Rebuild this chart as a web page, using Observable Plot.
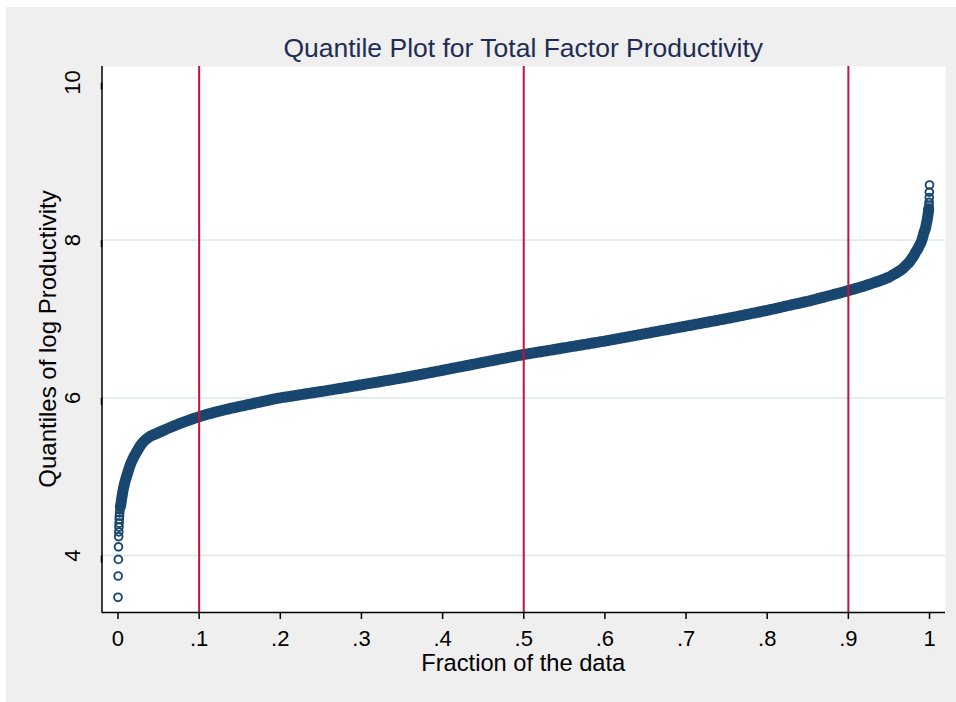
<!DOCTYPE html>
<html><head><meta charset="utf-8">
<script src="https://cdn.jsdelivr.net/npm/d3@7"></script>
<script src="https://cdn.jsdelivr.net/npm/@observablehq/plot@0.6"></script>
<style>
html,body{margin:0;padding:0;background:#fff;}
#bg{position:absolute;left:6px;top:7px;width:950px;height:695px;background:#efefef;}
#chart{position:absolute;left:0;top:0;}
</style></head><body><div id="bg"></div><div id="chart"></div>
<script>
// ---- data ----
const titleText = "Quantile Plot for Total Factor Productivity";
const xLabel = "Fraction of the data";
const yLabel = "Quantiles of log Productivity";
const xTicks = [0, 0.1, 0.2, 0.3, 0.4, 0.5, 0.6, 0.7, 0.8, 0.9, 1];
const xTickLabels = ["0", ".1", ".2", ".3", ".4", ".5", ".6", ".7", ".8", ".9", "1"];
const yTicks = [4, 6, 8, 10];
const yTickLabels = ["4", "6", "8", "10"];
const yGrid = [4, 6, 8];
const refLines = [0.1, 0.5, 0.9];

// lower tail: [fraction, quantile]
const lowTail = [
  [0.0000,3.47],[0.0002,3.74],[0.0004,3.95],[0.0006,4.11],[0.0008,4.24],[0.0010,4.30],
  [0.0012,4.36],[0.0014,4.41],[0.0016,4.46],[0.0018,4.50],[0.0020,4.54],[0.0025,4.58],
  [0.0030,4.62],[0.0037,4.66],[0.0042,4.70],[0.0050,4.75],[0.0058,4.80],[0.0067,4.85],
  [0.0078,4.90],[0.0090,4.95],[0.0105,5.00],[0.0120,5.05],[0.0135,5.10],[0.0152,5.15],
  [0.0172,5.20],[0.0195,5.25],[0.0222,5.30],[0.0250,5.35],[0.0280,5.40],[0.0320,5.45],
  [0.0380,5.50],[0.0470,5.545],[0.0540,5.578]
];
// body: quantiles at fractions 0.060, 0.065, ... 0.960
const bodyStart = 0.06, bodyStep = 0.005;
const bodyQuantiles = [
  5.605,5.627,5.648,5.669,5.689,5.708,5.726,5.743,5.760,5.776,5.791,5.805,5.819,5.832,5.845,5.857,
  5.869,5.880,5.891,5.902,5.913,5.924,5.935,5.946,5.957,5.968,5.979,5.990,6.000,6.008,6.016,6.024,
  6.032,6.040,6.048,6.056,6.064,6.072,6.080,6.088,6.097,6.105,6.114,6.122,6.131,6.139,6.148,6.156,
  6.165,6.174,6.183,6.191,6.200,6.209,6.218,6.226,6.235,6.244,6.253,6.263,6.272,6.282,6.291,6.301,
  6.310,6.320,6.330,6.340,6.350,6.360,6.370,6.380,6.390,6.400,6.410,6.420,6.430,6.440,6.450,6.460,
  6.470,6.480,6.490,6.500,6.510,6.520,6.530,6.540,6.550,6.558,6.567,6.575,6.584,6.592,6.601,6.609,
  6.618,6.626,6.635,6.644,6.652,6.661,6.669,6.678,6.686,6.695,6.703,6.712,6.720,6.730,6.739,6.749,
  6.758,6.768,6.777,6.787,6.796,6.806,6.815,6.825,6.834,6.844,6.853,6.863,6.872,6.882,6.891,6.901,
  6.910,6.920,6.929,6.939,6.948,6.958,6.967,6.977,6.986,6.996,7.005,7.016,7.026,7.037,7.047,7.058,
  7.068,7.079,7.089,7.100,7.110,7.121,7.133,7.144,7.156,7.168,7.179,7.191,7.202,7.214,7.225,7.238,
  7.251,7.265,7.278,7.292,7.305,7.319,7.332,7.346,7.360,7.375,7.390,7.405,7.420,7.437,7.455,7.472,
  7.490,7.510,7.530,7.560,7.590
];
// upper tail: [fraction, quantile]
const highTail = [
  [0.963,7.61],[0.966,7.63],[0.969,7.66],[0.972,7.69],[0.975,7.72],[0.977,7.75],[0.979,7.78],
  [0.981,7.81],[0.983,7.85],[0.985,7.88],[0.987,7.92],[0.989,7.96],[0.9905,8.00],[0.992,8.05],
  [0.993,8.09],[0.994,8.12],[0.995,8.15],[0.996,8.20],[0.997,8.25],[0.9978,8.30],[0.9985,8.35],
  [0.9990,8.40],[0.9993,8.44],[0.9995,8.48],[0.9997,8.54],[0.9998,8.61],[1.0000,8.70]
];

// ---- build table ----
const points = [
  ...lowTail.map(([f, q]) => ({f, q})),
  ...bodyQuantiles.map((q, i) => ({f: bodyStart + i * bodyStep, q})),
  ...highTail.map(([f, q]) => ({f, q}))
];
// the dense part of the cloud, where the circles merge into a solid band
const dense = points.filter(d => d.q >= 4.6 && d.q <= 8.4);

const W = 956, H = 702;
const mL = 101.5, mR = 11, mT = 66, mB = 90;
const xDomain = [-0.0197, 1.0197];
const yDomain = [3.277, 10.203];
const font = "'Liberation Sans', Arial, Helvetica, sans-serif";
const navy = "#1a476f";

const chart = Plot.plot({
  width: W, height: H,
  marginLeft: mL, marginRight: mR, marginTop: mT, marginBottom: mB,
  style: {background: "transparent", fontFamily: font, fontSize: "22px", color: "#000", overflow: "visible"},
  x: {domain: xDomain},
  y: {domain: yDomain},
  marks: [
    Plot.frame({fill: "#fff", stroke: null}),
    Plot.gridY(yGrid, {stroke: "#e2ebee", strokeOpacity: 1, strokeWidth: 1.8}),
    Plot.line(dense, {x: "f", y: "q", stroke: navy, strokeWidth: 11, strokeLinecap: "round", strokeLinejoin: "round", curve: "monotone-x"}),
    Plot.dot(points, {x: "f", y: "q", r: 3.9, stroke: navy, strokeWidth: 1.9, fill: "none"}),
    Plot.ruleX(refLines, {stroke: "#c8103a", strokeWidth: 2}),
    Plot.ruleX([xDomain[0]], {stroke: "#000", strokeWidth: 1.5}),
    Plot.ruleY([yDomain[0]], {stroke: "#000", strokeWidth: 1.5}),
    Plot.axisX(xTicks, {tickSize: 7, tickPadding: 11, fontSize: 22, strokeWidth: 1.5,
      tickFormat: d => xTickLabels[xTicks.indexOf(d)], label: null}),
    Plot.axisY(yTicks, {tickSize: 7, tickPadding: 15, fontSize: 22, strokeWidth: 1.5,
      tickFormat: d => yTickLabels[yTicks.indexOf(d)],
      rotate: -90, textAnchor: "middle", lineAnchor: "bottom", label: null})
  ]
});
document.getElementById("chart").appendChild(chart);

const svg = d3.select(chart);
const cx = (mL + (W - mR)) / 2;
svg.append("text").attr("x", cx).attr("y", 57).attr("text-anchor", "middle")
  .attr("font-family", font).attr("font-size", 26.5).attr("fill", "#1e2d55").text(titleText);
svg.append("text").attr("x", cx).attr("y", 671).attr("text-anchor", "middle")
  .attr("font-family", font).attr("font-size", 23.7).attr("fill", "#000").text(xLabel);
svg.append("text").attr("transform", `translate(56,${(mT + H - mB) / 2}) rotate(-90)`)
  .attr("text-anchor", "middle")
  .attr("font-family", font).attr("font-size", 24).attr("fill", "#000").text(yLabel);
</script></body></html>
